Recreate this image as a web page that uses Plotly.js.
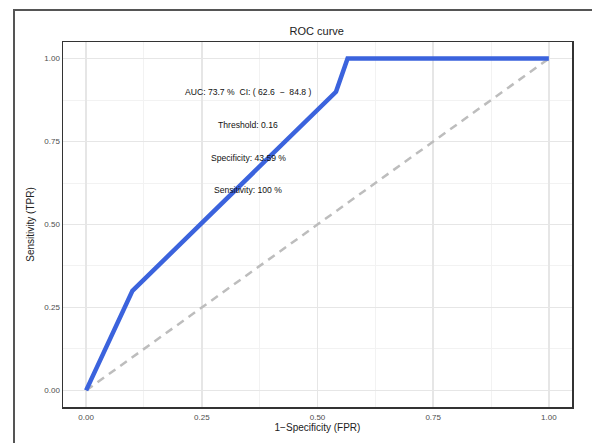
<!DOCTYPE html>
<html>
<head>
<meta charset="utf-8">
<script src="https://cdn.plot.ly/plotly-3.0.1.min.js"></script>
<style>
html,body{margin:0;padding:0;background:#fff;}
#wrap{position:relative;width:592px;height:443px;overflow:hidden;}
#chart{position:absolute;left:0;top:0;width:592px;height:443px;}
#frame{position:absolute;left:13px;top:9px;width:700px;height:600px;border-left:2px solid #555;border-top:2px solid #555;pointer-events:none;}
</style>
</head>
<body>
<div id="wrap"><div id="chart"></div><div id="frame"></div></div>
<script>
// ROC curve points
const fpr = [0, 0.1, 0.54, 0.565, 1.0];
const tpr = [0, 0.3, 0.9, 1.0, 1.0];
// reference diagonal
const diagX = [0, 1];
const diagY = [0, 1];
// annotation texts
const annoTexts = ["AUC: 73.7 %  CI: ( 62.6  \u2212  84.8 )", "Threshold: 0.16", "Specificity: 43.59 %", "Sensitivity: 100 %"];
const annoX = [0.35, 0.35, 0.35, 0.35];
const annoY = [0.9, 0.8, 0.7, 0.605];
const tickVals = [0, 0.25, 0.5, 0.75, 1.0];

const font = "Liberation Sans, Arial, sans-serif";

const traces = [
  {x: diagX, y: diagY, mode: 'lines', line: {color: '#bdbdbd', width: 2.5, dash: '8px,6px'}, hoverinfo: 'skip'},
  {x: fpr, y: tpr, mode: 'lines', line: {color: '#3b63dd', width: 4.5}, hoverinfo: 'skip'}
];

const axisCommon = {
  tickvals: tickVals, tickformat: '.2f', showgrid: true, gridcolor: '#e6e6e6', gridwidth: 1.5,
  minor: {dtick: 0.125, tick0: 0, showgrid: true, gridcolor: '#f2f2f2', gridwidth: 1},
  zeroline: false, showline: true, mirror: true, linecolor: '#333', linewidth: 1.5,
  ticks: '', tickfont: {family: font, size: 8, color: '#4d4d4d'}, range: [-0.05, 1.05]
};

const layout = {
  width: 592, height: 443,
  margin: {l: 63, r: 20, t: 42, b: 36},
  paper_bgcolor: '#fff', plot_bgcolor: '#fff',
  showlegend: false,
  title: {text: 'ROC curve', font: {family: font, size: 11, color: '#222'}, x: 0.535, xanchor: 'center', y: 0.93, yanchor: 'middle'},
  xaxis: Object.assign({}, axisCommon, {title: {text: '1\u2212Specificity (FPR)', font: {family: font, size: 10, color: '#222'}, standoff: 3}, ticklabelstandoff: 2}),
  yaxis: Object.assign({}, axisCommon, {title: {text: 'Sensitivity (TPR)', font: {family: font, size: 10, color: '#222'}, standoff: 8}}),
  annotations: annoTexts.map((t, i) => ({x: annoX[i], y: annoY[i], xref: 'x', yref: 'y', text: t, showarrow: false, font: {family: font, size: 8.6, color: '#111'}, xanchor: 'center', yanchor: 'middle'}))
};

Plotly.newPlot('chart', traces, layout, {displayModeBar: false, staticPlot: true});
</script>
</body>
</html>
